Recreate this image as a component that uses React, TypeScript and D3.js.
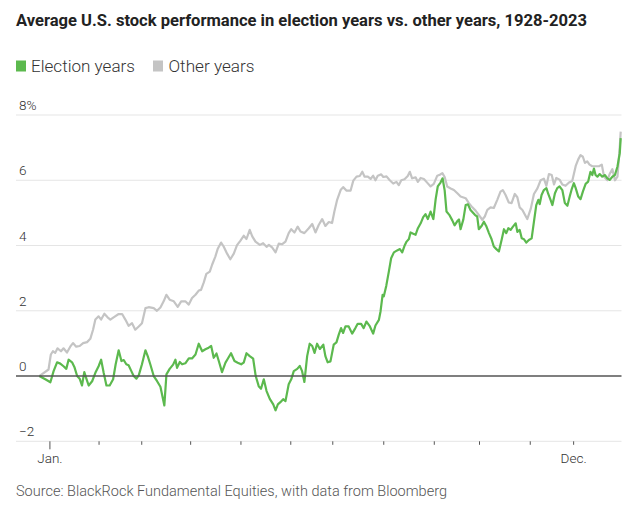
import React from "react";
import * as d3 from "d3";

const title = "Average U.S. stock performance in election years vs. other years, 1928-2023";
const source = "Source: BlackRock Fundamental Equities, with data from Bloomberg";
const seriesNames = ["Election years", "Other years"];
const seriesColors = ["#5cb94e", "#c4c4c4"];

const yTicks = [-2, 0, 2, 4, 6, 8];
const yTickLabels = ["\u22122", "0", "2", "4", "6", "8%"];

// x unit: trading day of the year (0 = start, 252 = year end)
const monthTickDays = [4.6, 25.9, 44.4, 65.6, 87.4, 109, 127.2, 149.3, 171.2, 190.8, 212.8, 231.6];
const monthTickLabels = ["Jan.", "", "", "", "", "", "", "", "", "", "", "Dec."];

const otherYears: [number, number][] = [
  [0, 0], [4.0, 0.2], [5.0, 0.66], [5.9, 0.76], [6.9, 0.71], [7.9, 0.85], [9.4, 0.76], [10.5, 0.85], [12.0, 0.72], [13.4, 0.9],
  [14.6, 1.01], [16.0, 0.9], [17.5, 0.92], [19.0, 1.01], [20.7, 1.04], [22.1, 1.14], [23.3, 1.42], [24.3, 1.73], [25.7, 1.83], [26.8, 1.73],
  [28.2, 1.91], [29.6, 1.8], [30.8, 1.73], [32.2, 1.8], [34.4, 1.9], [35.9, 1.9], [37.3, 1.73], [38.7, 1.54], [40.2, 1.62], [41.6, 1.42],
  [43.1, 1.52], [44.5, 1.62], [46.0, 2.08], [47.4, 2.11], [49.6, 2.08], [51.0, 2.0], [52.5, 2.1], [53.9, 2.29], [55.1, 2.49], [56.5, 2.34],
  [58.3, 2.29], [60.0, 2.12], [61.5, 2.29], [63.3, 2.29], [64.8, 2.19], [66.2, 2.39], [67.7, 2.49], [69.1, 2.62], [70.1, 2.64], [71.3, 2.87],
  [72.4, 3.13], [73.9, 3.2], [74.9, 3.41], [76.3, 3.66], [77.3, 3.89], [78.8, 4.09], [79.9, 3.97], [81.4, 3.75], [82.8, 3.58], [84.3, 3.75],
  [85.7, 4.01], [87.2, 4.15], [88.6, 4.3], [89.8, 4.2], [91.2, 4.48], [92.3, 4.28], [93.7, 4.12], [95.6, 4.02], [97.0, 4.07], [98.5, 3.96],
  [99.5, 4.02], [100.9, 3.94], [102.4, 3.79], [103.8, 4.06], [105.3, 4.04], [106.7, 4.12], [108.1, 4.38], [109.2, 4.5], [110.6, 4.4], [112.0, 4.58],
  [113.2, 4.43], [114.9, 4.38], [116.8, 4.53], [118.3, 4.66], [119.7, 4.4], [121.1, 4.63], [122.6, 4.81], [124.0, 4.6], [125.5, 4.72], [126.9, 4.69],
  [127.9, 5.04], [129.1, 5.4], [130.6, 5.7], [131.7, 5.79], [133.2, 5.68], [134.9, 5.68], [136.1, 5.99], [137.5, 6.11], [138.9, 6.13], [140.0, 6.26],
  [141.0, 6.11], [142.4, 6.11], [143.6, 6.04], [144.7, 6.14], [145.7, 6.0], [146.7, 6.14], [148.2, 6.18], [149.1, 6.1], [150.5, 6.12], [151.9, 6.0],
  [153.4, 5.9], [154.8, 5.95], [155.8, 5.85], [156.9, 6.0], [158.3, 6.03], [159.7, 6.13], [160.6, 6.26], [161.6, 6.06], [163.1, 6.09], [164.1, 5.95],
  [165.3, 6.07], [166.7, 6.04], [168.2, 5.92], [169.6, 5.81], [171.0, 5.89], [172.5, 6.14], [173.6, 6.17], [174.7, 6.22], [175.7, 6.1], [176.8, 5.81],
  [178.3, 5.75], [179.7, 5.7], [181.2, 5.6], [182.6, 5.5], [184.8, 5.45], [186.2, 5.3], [187.7, 5.17], [189.1, 5.07], [190.5, 4.94], [192.0, 4.79],
  [193.1, 4.89], [194.2, 5.09], [195.6, 5.17], [197.0, 5.15], [198.5, 5.4], [199.9, 5.65], [200.9, 5.7], [202.1, 5.55], [203.5, 5.32], [204.7, 5.3],
  [206.1, 5.58], [207.2, 5.48], [208.2, 5.17], [209.4, 5.09], [210.5, 4.94], [211.5, 4.81], [213.0, 5.12], [214.4, 5.58], [215.9, 5.75], [217.3, 6.0],
  [218.7, 6.05], [219.8, 5.83], [220.9, 6.19], [222.1, 6.16], [223.1, 5.87], [224.1, 6.07], [225.5, 6.02], [226.7, 5.87], [228.1, 5.83], [229.6, 5.93],
  [231.0, 5.98], [232.5, 6.44], [233.6, 6.64], [234.6, 6.77], [235.6, 6.72], [236.5, 6.53], [237.5, 6.58], [238.5, 6.48], [239.7, 6.43], [241.1, 6.43],
  [242.6, 6.43], [243.8, 6.48], [244.8, 6.11], [246.2, 6.0], [247.2, 6.19], [248.4, 6.34], [249.5, 6.0], [250.6, 6.11], [251.6, 7.03], [252, 7.49],
];

const electionYears: [number, number][] = [
  [0, 0], [2.6, -0.1], [4.8, -0.19], [6.2, 0.15], [7.7, 0.42], [9.1, 0.38], [10.5, 0.3], [11.7, 0.22], [12.7, 0.5], [14.2, 0.42],
  [15.2, 0.28], [16.4, 0], [17.5, -0.08], [18.5, -0.29], [19.5, 0.12], [20.4, -0.08], [21.4, -0.29], [22.9, -0.16], [24.3, 0.1], [25.7, 0.3],
  [26.8, 0.5], [27.9, 0.1], [29.1, -0.29], [30.5, -0.29], [32.0, -0.1], [33.1, 0.36], [34.4, 0.79], [35.6, 0.46], [36.6, 0.49], [37.7, 0.36],
  [38.7, 0.33], [39.9, 0.15], [40.9, 0], [42.1, -0.08], [43.1, 0.02], [44.5, 0.36], [46.0, 0.79], [47.0, 0.61], [48.1, 0.36], [49.6, 0],
  [51.0, -0.15], [52.5, -0.33], [54.2, -0.9], [55.1, 0.05], [56.5, 0.22], [58.0, 0.35], [59.0, 0.5], [59.7, 0.25], [60.9, 0.43], [61.9, 0.36],
  [63.3, 0.39], [64.8, 0.54], [66.2, 0.54], [67.7, 0.66], [69.1, 0.99], [70.6, 0.76], [72.0, 0.82], [73.4, 0.87], [74.5, 0.92], [75.6, 0.56],
  [76.8, 0.69], [77.8, 0.46], [79.2, 0.12], [80.7, 0.41], [81.7, 0.53], [83.1, 0.7], [84.6, 0.46], [86.0, 0.41], [87.5, 0.36], [88.6, 0.41],
  [89.8, 0.7], [91.2, 0.61], [92.7, 0.53], [93.8, 0], [95.1, -0.31], [96.1, -0.39], [97.3, -0.1], [98.5, -0.46], [99.9, -0.7], [101.4, -0.87],
  [102.4, -1.05], [103.4, -0.87], [104.5, -0.8], [105.7, -0.71], [106.7, -0.77], [108.1, -0.25], [109.2, -0.1], [110.3, 0.15], [111.8, 0.22], [112.9, 0.31],
  [113.9, 0.15], [114.9, -0.18], [116.1, 0.61], [117.2, 0.99], [118.3, 0.92], [119.3, 0.71], [120.4, 0.99], [121.6, 0.83], [123.1, 0.96], [124.0, 0.61],
  [125.0, 0.42], [126.2, 0.45], [127.6, 0.96], [128.8, 1.03], [129.8, 1.27], [130.8, 1.47], [131.7, 1.32], [132.7, 1.52], [134.1, 1.52], [135.6, 1.3],
  [137.0, 1.47], [138.0, 1.6], [139.5, 1.6], [140.6, 1.47], [141.8, 1.67], [143.3, 1.52], [144.7, 1.3], [145.7, 1.55], [147.2, 1.72], [147.9, 1.98],
  [148.8, 2.49], [149.3, 2.44], [150.4, 2.77], [151.5, 3.2], [152.5, 3.61], [153.7, 3.79], [155.1, 3.85], [156.3, 3.89], [157.3, 3.79], [158.3, 3.99],
  [159.2, 4.12], [160.2, 4.2], [160.9, 4.4], [162.1, 4.36], [163.1, 4.33], [164.1, 4.53], [165.3, 4.68], [166.4, 4.87], [167.4, 4.96], [168.4, 4.81],
  [169.6, 5.04], [170.8, 4.81], [171.8, 5.42], [172.7, 5.81], [173.9, 5.93], [174.8, 6.06], [175.7, 5.69], [176.5, 5.04], [177.7, 4.94], [179.0, 4.77],
  [180.0, 4.62], [181.2, 4.75], [181.9, 4.8], [182.6, 4.5], [183.8, 4.8], [184.8, 5.24], [185.8, 5.26], [186.9, 5.09], [188.8, 4.94], [189.8, 4.89],
  [190.5, 4.5], [191.7, 4.6], [192.7, 4.73], [193.7, 4.6], [194.9, 4.38], [196.0, 4.2], [197.0, 3.97], [198.1, 3.89], [199.2, 3.82], [200.4, 4.18],
  [201.4, 4.5], [202.4, 4.38], [203.3, 4.53], [204.3, 4.48], [205.3, 4.58], [206.5, 4.68], [207.2, 4.42], [208.2, 4.48], [209.1, 4.22], [210.1, 4.19],
  [211.1, 4.09], [212.2, 4.17], [213.4, 4.22], [214.4, 4.73], [215.4, 5.24], [216.3, 5.4], [216.9, 5.27], [217.7, 5.55], [218.7, 5.7], [219.8, 5.76],
  [220.6, 5.58], [221.6, 5.4], [222.4, 5.24], [223.5, 5.6], [224.5, 5.76], [225.5, 5.81], [226.7, 5.7], [227.8, 5.3], [228.9, 5.22], [229.9, 5.5],
  [230.7, 5.71], [231.7, 5.91], [232.5, 5.76], [233.6, 5.5], [234.6, 5.42], [235.6, 5.65], [236.8, 5.89], [237.9, 5.96], [238.9, 6.26], [239.7, 6.16],
  [240.4, 6.36], [241.1, 6.16], [241.9, 6.11], [242.9, 6.19], [244.0, 6.11], [245.2, 6.16], [246.2, 6.06], [247.2, 6.01], [248.4, 6.11], [249.5, 6.16],
  [250.6, 6.42], [251.6, 6.83], [252, 7.29],
];

const W = 643;
const H = 509;
const FONT = "Roboto, 'Liberation Sans', sans-serif";

export default function App() {
  const x = d3.scaleLinear().domain([0, 252]).range([39.3, 620.7]);
  const y = d3.scaleLinear().domain([-2, 8]).range([441.3, 115]);
  const gridX0 = 16;
  const gridX1 = 621.5;

  const line = d3
    .line<[number, number]>()
    .x((d) => x(d[0]))
    .y((d) => y(d[1]))
    .curve(d3.curveLinear);

  return (
    <svg
      width={W}
      height={H}
      viewBox={`0 0 ${W} ${H}`}
      style={{ position: "absolute", left: 0, top: 0, display: "block", background: "#fff" }}
      fontFamily={FONT}
    >
      <text x={16} y={26} fontSize={16.5} fontWeight={700} fill="#222" textLength={571} lengthAdjust="spacingAndGlyphs">
        {title}
      </text>

      {/* legend */}
      <rect x={16} y={60.5} width={10} height={11} fill={seriesColors[0]} />
      <text x={31} y={72} fontSize={16.5} fontWeight={300} fill="#333" textLength={104} lengthAdjust="spacingAndGlyphs">
        {seriesNames[0]}
      </text>
      <rect x={153} y={60.5} width={10} height={11} fill={seriesColors[1]} />
      <text x={168.5} y={72} fontSize={16.5} fontWeight={300} fill="#333" textLength={86} lengthAdjust="spacingAndGlyphs">
        {seriesNames[1]}
      </text>

      {/* grid */}
      {yTicks.map((t, i) => (
        <g key={t}>
          {t !== 0 && (
            <line x1={gridX0} x2={gridX1} y1={y(t)} y2={y(t)} stroke="#e5e5e5" strokeWidth={1} />
          )}
          <text x={19} y={y(t) - 5} fontSize={13.5} fontWeight={300} fill="#333">
            {yTickLabels[i]}
          </text>
        </g>
      ))}

      {/* x ticks */}
      {monthTickDays.map((d, i) => (
        <g key={i}>
          <line
            x1={x(d)}
            x2={x(d)}
            y1={y(-2)}
            y2={y(-2) + (monthTickLabels[i] === "Jan." ? 8 : 3.5)}
            stroke="#555"
            strokeWidth={1}
          />
          {monthTickLabels[i] && (
            <text x={x(d)} y={463} fontSize={13.5} fontWeight={300} fill="#333" textAnchor="middle">
              {monthTickLabels[i]}
            </text>
          )}
        </g>
      ))}

      {/* series */}
      <path d={line(otherYears) || ""} fill="none" stroke={seriesColors[1]} strokeWidth={2.2} strokeLinejoin="round" />
      <path d={line(electionYears) || ""} fill="none" stroke={seriesColors[0]} strokeWidth={2.2} strokeLinejoin="round" />

      {/* zero line */}
      <line x1={gridX0} x2={gridX1} y1={y(0)} y2={y(0)} stroke="#555" strokeWidth={1.4} />

      <text x={16} y={496} fontSize={14} fontWeight={300} fill="#555" textLength={431} lengthAdjust="spacingAndGlyphs">
        {source}
      </text>
    </svg>
  );
}
